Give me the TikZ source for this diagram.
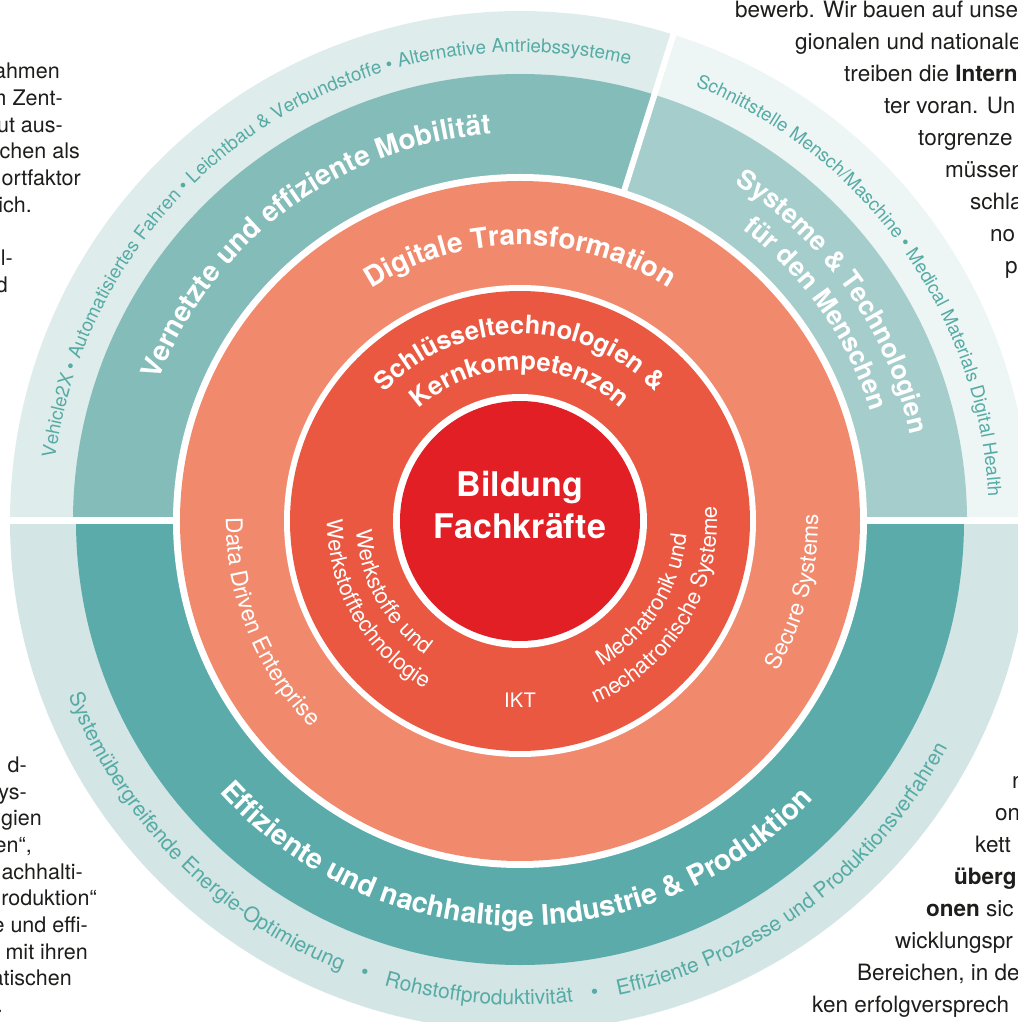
\documentclass[tikz,border=0pt]{standalone}
\usepackage{fontspec}
\setmainfont{TeX Gyre Heros}
\definecolor{cRed}{HTML}{E31F26}
\definecolor{cRing}{HTML}{EA5841}
\definecolor{cSalmon}{HTML}{F1896D}
\definecolor{cTLteal}{HTML}{83BCB8}
\definecolor{cTLlight}{HTML}{DEECEB}
\definecolor{cTRteal}{HTML}{A5CDCB}
\definecolor{cTRlight}{HTML}{EDF5F5}
\definecolor{cBteal}{HTML}{5AABAA}
\definecolor{cBlight}{HTML}{D3E5E4}
\definecolor{cTxt}{HTML}{56ABA5}
\definecolor{cBody}{HTML}{1D1D1B}
\newcommand\myfs[1]{\fontsize{#1}{#1}\selectfont}
\ExplSyntaxOn
\dim_new:N \l__arc_acc_dim
\dim_new:N \g__arc_w_dim
\dim_new:N \l__arc_tot_dim
\fp_new:N \l__arc_start_fp
\fp_new:N \l__arc_ang_fp
\box_new:N \g__arc_box
\tl_new:N \l__arc_font_tl
\cs_new_protected:Npn \__arc_measure:n #1
  {
    \pgfinterruptpicture
      \l__arc_font_tl
      \str_if_eq:nnTF {#1} {_}
        { \dim_gset:Nn \g__arc_w_dim { 0.3em } }
        {
          \hbox_gset:Nn \g__arc_box {#1}
          \dim_gset:Nn \g__arc_w_dim { \box_wd:N \g__arc_box }
        }
    \endpgfinterruptpicture
  }
% #1 radius (pt), #2 centre angle, #3 1 = clockwise / -1 = anticlockwise,
% #4 font, #5 colour, #6 text
\NewDocumentCommand \ArcText { m m m m m m }
  {
    \group_begin:
    \tl_set:Nn \l__arc_font_tl {#4}
    \dim_zero:N \l__arc_tot_dim
    \str_map_inline:nn {#6}
      { \__arc_measure:n {##1} \dim_add:Nn \l__arc_tot_dim { \g__arc_w_dim } }
    \fp_set:Nn \l__arc_start_fp
      { #2 + (#3) * ( \dim_to_fp:n { \l__arc_tot_dim } ) / 2 / (#1) * 180 / pi }
    \dim_zero:N \l__arc_acc_dim
    \str_map_inline:nn {#6}
      {
        \__arc_measure:n {##1}
        \fp_set:Nn \l__arc_ang_fp
          { \l__arc_start_fp - (#3) * ( \dim_to_fp:n { \l__arc_acc_dim + 0.5 \g__arc_w_dim } ) / (#1) * 180 / pi }
        \bool_lazy_or:nnF { \str_if_eq_p:nn {##1} {~} } { \str_if_eq_p:nn {##1} {_} }
          {
            \pgfscope
              \pgftransformshift { \pgfpointpolar { \fp_to_decimal:N \l__arc_ang_fp } { #1 pt } }
              \pgftransformrotate { \fp_eval:n { \l__arc_ang_fp - (#3) * 90 } }
              \pgftext [ base ] { \l__arc_font_tl \color{#5} ##1 }
            \endpgfscope
          }
        \dim_add:Nn \l__arc_acc_dim { \g__arc_w_dim }
      }
    \group_end:
  }
\ExplSyntaxOff
\begin{document}
\begin{tikzpicture}[x=1pt,y=1pt,
  bodyL/.style={font=\myfs{21.5}, text=cBody, inner sep=0pt, anchor=base east},
  bodyR/.style={font=\myfs{22.5}, text=cBody, inner sep=0pt, anchor=base west},
  centre/.style={font=\myfs{34}\bfseries, text=white, inner sep=0pt, anchor=base}
]
\useasboundingbox (-520,-501) rectangle (497,521);
% ---- outer sectors
\fill[cTLlight] (0,0) -- (72.5:510pt) arc[start angle=72.5,end angle=180,radius=510pt] -- cycle;
\fill[cTRlight] (0,0) -- (0:510pt) arc[start angle=0,end angle=72.5,radius=510pt] -- cycle;
\fill[cBlight] (0,0) -- (180:510pt) arc[start angle=180,end angle=360,radius=510pt] -- cycle;
\fill[cTLteal] (0,0) -- (72.5:447pt) arc[start angle=72.5,end angle=180,radius=447pt] -- cycle;
\fill[cTRteal] (0,0) -- (0:447pt) arc[start angle=0,end angle=72.5,radius=447pt] -- cycle;
\fill[cBteal] (0,0) -- (180:444pt) arc[start angle=180,end angle=360,radius=444pt] -- cycle;
% ---- gaps
\draw[white, line width=7pt] (-540,0) -- (540,0);
\draw[white, line width=6pt] (0,0) -- (72.5:540pt);
% ---- inner discs
\fill[white] (0,0) circle[radius=347pt];
\fill[cSalmon] (0,0) circle[radius=340pt];
\fill[white] (0,0) circle[radius=236pt];
\fill[cRing] (0,0) circle[radius=230pt];
\fill[white] (0,0) circle[radius=127pt];
\fill[cRed] (0,0) circle[radius=120pt];

% ---- outer light ring texts
\ArcText{469}{124.4}{1}{\myfs{18.8}}{cTxt}{Vehicle2X • Automatisiertes Fahren • Leichtbau & Verbundstoffe • Alternative Antriebssysteme}
\ArcText{469}{35.5}{1}{\myfs{18.6}}{cTxt}{Schnittstelle Mensch/Maschine • Medical Materials Digital Health}
\ArcText{484}{266.6}{-1}{\myfs{21}}{cTxt}{Systemübergreifende Energie-Optimierung___•___Rohstoffproduktivität___•___Effiziente Prozesse und Produktionsverfahren}

% ---- teal ring labels
\ArcText{388}{126.5}{1}{\myfs{28}\bfseries}{white}{Vernetzte und effiziente Mobilität}
\ArcText{400}{35}{1}{\myfs{26.5}\bfseries}{white}{Systeme & Technologien}
\ArcText{367}{35}{1}{\myfs{26.5}\bfseries}{white}{für den Menschen}
\ArcText{405}{269.3}{-1}{\myfs{28.5}\bfseries}{white}{Effiziente und nachhaltige Industrie & Produktion}

% ---- salmon ring labels
\ArcText{276}{90}{1}{\myfs{28}\bfseries}{white}{Digitale Transformation}
\ArcText{294}{202}{-1}{\myfs{23}}{white}{Data Driven Enterprise}
\ArcText{298}{-14.5}{-1}{\myfs{22.5}}{white}{Secure Systems}

% ---- key technologies ring labels
\ArcText{187}{90}{1}{\myfs{25.5}\bfseries}{white}{Schlüsseltechnologien &}
\ArcText{151}{90}{1}{\myfs{25.5}\bfseries}{white}{Kernkompetenzen}
\ArcText{164}{209}{-1}{\myfs{22}}{white}{Werkstoffe und}
\ArcText{193}{210}{-1}{\myfs{22}}{white}{Werkstofftechnologie}
\ArcText{167}{-32.5}{-1}{\myfs{22}}{white}{Mechatronik und}
\ArcText{197}{-31.5}{-1}{\myfs{22}}{white}{mechatronische Systeme}
\node[font=\myfs{20}, text=white, inner sep=0pt, anchor=base] (ikt) at (0,-186) {IKT};

% ---- centre
\node[centre] (bildung) at (0,24) {Bildung};
\node[centre] (fachkraefte) at (0,-18) {Fachkräfte};

% ---- body text, left
\node[bodyL] (l1) at (-460,442) {ahmen};
\node[bodyL] (l2) at (-457,415) {m Zent-};
\node[bodyL] (l3) at (-457,388) {gut aus-};
\node[bodyL] (l4) at (-440,362) {schen als};
\node[bodyL] (l5) at (-439,335) {ortfaktor};
\node[bodyL] (l6) at (-488,308) {ich.};
\node[bodyL] (l7) at (-507,255) {l-};
\node[bodyL] (l8) at (-512,228) {d};
\node[bodyL] (m1) at (-493,-251) {d-};
\node[bodyL] (m2) at (-493,-278) {ys-};
\node[bodyL] (m3) at (-478,-304) {ogien};
\node[bodyL] (m4) at (-488,-331) {en“,};
\node[bodyL] (m5) at (-437,-358) {nachhalti-};
\node[bodyL] (m6) at (-423,-384) {roduktion“};
\node[bodyL] (m7) at (-432,-411) {e und effi-};
\node[bodyL] (m8) at (-432,-438) {“ mit ihren};
\node[bodyL] (m9) at (-448,-464) {atischen};
\node[bodyL] (m10) at (-517,-491) {.};
% ---- body text, right
\node[bodyR] (r1) at (215,503) {bewerb. Wir bauen auf unse};
\node[bodyR] (r2) at (275,471) {gionalen und nationale};
\node[bodyR] (r3) at (324,439) {treiben die \textbf{Intern}};
\node[bodyR] (r4) at (364,407) {ter voran. Un};
\node[bodyR] (r5) at (398,375) {torgrenze};
\node[bodyR] (r6) at (425,343) {müssen};
\node[bodyR] (r7) at (450,311) {schla};
\node[bodyR] (r8) at (470,279) {no};
\node[bodyR] (r9) at (485,247) {p};
\node[bodyR] (s1) at (492,-267) {n};
\node[bodyR] (s2) at (475,-299) {on};
\node[bodyR] (s3) at (455,-331) {kett};
\node[bodyR] (s4) at (434,-363) {\textbf{überg}};
\node[bodyR] (s5) at (406,-395) {\textbf{onen} sic};
\node[bodyR] (s6) at (375,-427) {wicklungspr};
\node[bodyR] (s7) at (337,-459) {Bereichen, in de};
\node[bodyR] (s8) at (292,-491) {ken erfolgversprech};
\end{tikzpicture}
\end{document}
